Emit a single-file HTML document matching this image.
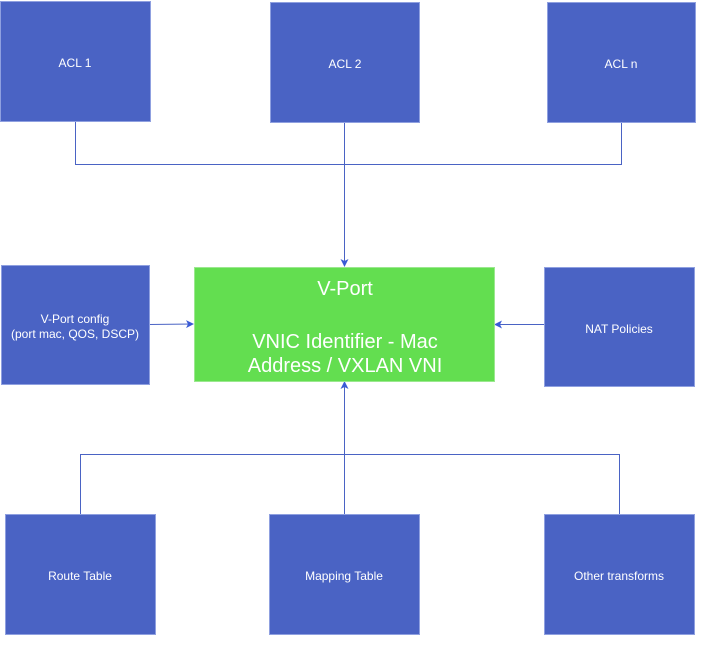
<!DOCTYPE html>
<html><head><style>
html,body{margin:0;padding:0;background:#fff;}
svg{display:block}
text{font-family:"Liberation Sans",sans-serif;fill:#fff;text-anchor:middle;}
</style></head><body>
<svg width="704" height="648" viewBox="0 0 704 648" xmlns="http://www.w3.org/2000/svg">
<defs>
<marker id="a" markerWidth="8" markerHeight="8" refX="7" refY="4" orient="auto" markerUnits="userSpaceOnUse">
<path d="M0,0 L8,4 L0,8 L2,4 z" fill="#3a5bd6"/>
</marker>
</defs>
<g fill="none" stroke="#4a63c4" stroke-width="1">
<polyline points="75.5,121 75.5,164.5 621.5,164.5 621.5,122"/>
<line x1="344.5" y1="122" x2="344.5" y2="266" marker-end="url(#a)"/>
<polyline points="80.5,514 80.5,454.5 619.5,454.5 619.5,514"/>
<line x1="344.5" y1="514" x2="344.5" y2="382" marker-end="url(#a)"/>
<line x1="149" y1="324.5" x2="193" y2="324" marker-end="url(#a)"/>
<line x1="544" y1="324.5" x2="495" y2="324.5" marker-end="url(#a)"/>
</g>
<g fill="#4a63c4" stroke="#8fa0e0" stroke-width="1">
<rect x="0.5" y="1.5" width="150" height="120"/>
<rect x="270.5" y="2.5" width="149" height="120"/>
<rect x="547.5" y="2.5" width="148" height="120"/>
<rect x="1.5" y="265.5" width="148" height="119"/>
<rect x="544.5" y="267.5" width="150" height="119"/>
<rect x="5.5" y="514.5" width="150" height="120"/>
<rect x="269.5" y="514.5" width="150" height="120"/>
<rect x="544.5" y="514.5" width="150" height="120"/>
</g>
<rect x="194.5" y="267.5" width="300" height="114" fill="#63de50" stroke="#9be88f"/>
<g font-size="12">
<text x="75" y="67">ACL 1</text>
<text x="345" y="68">ACL 2</text>
<text x="621" y="68">ACL n</text>
<text x="75" y="323">V-Port config</text>
<text x="75" y="338">(port mac, QOS, DSCP)</text>
<text x="619" y="333">NAT Policies</text>
<text x="80" y="580">Route Table</text>
<text x="344" y="580">Mapping Table</text>
<text x="619" y="580">Other transforms</text>
</g>
<g font-size="20">
<text x="345" y="295">V-Port</text>
<text x="345" y="348">VNIC Identifier - Mac</text>
<text x="345" y="372">Address / VXLAN VNI</text>
</g>
</svg>
</body></html>
